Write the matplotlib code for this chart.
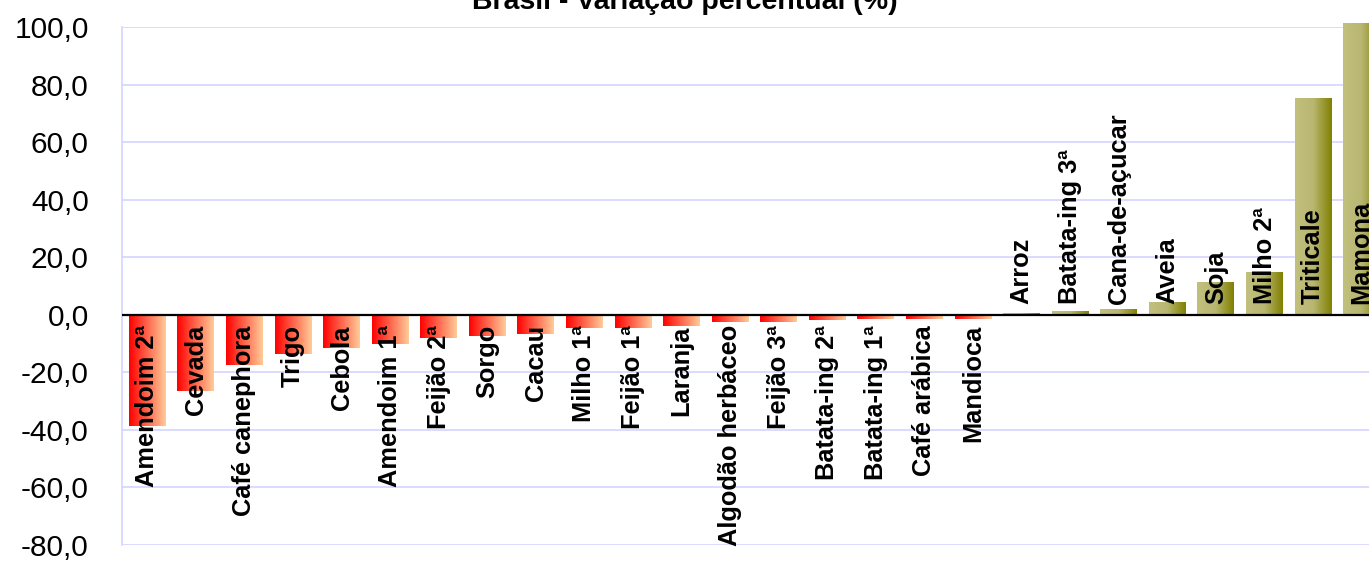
import numpy as np
import matplotlib
matplotlib.use("Agg")
from matplotlib import pyplot as plt
from matplotlib.colors import LinearSegmentedColormap

plt.rcParams['font.family'] = ['Liberation Sans', 'DejaVu Sans']

culturas = ["Amendoim 2ª", "Cevada", "Café canephora", "Trigo", "Cebola",
            "Amendoim 1ª", "Feijão 2ª", "Sorgo", "Cacau", "Milho 1ª",
            "Feijão 1ª", "Laranja", "Algodão herbáceo", "Feijão 3ª",
            "Batata-ing 2ª", "Batata-ing 1ª", "Café arábica", "Mandioca",
            "Arroz", "Batata-ing 3ª", "Cana-de-açucar", "Aveia", "Soja",
            "Milho 2ª", "Triticale", "Mamona"]
variacao = [-38.7, -26.6, -17.6, -13.5, -11.7, -10.2, -8.2, -7.5, -6.6, -4.6,
            -4.6, -3.8, -2.5, -2.5, -1.9, -1.3, -1.3, -1.3,
            0.5, 1.2, 1.8, 4.5, 11.4, 14.7, 75.3, 101.2]
yticks = [-80, -60, -40, -20, 0, 20, 40, 60, 80, 100]

# gradientes horizontais das barras
cmap_neg = LinearSegmentedColormap.from_list("neg", ["#FF0000", "#FFCC99"])
cmap_pos = LinearSegmentedColormap.from_list("pos", ["#C2C07E", "#B8B670", "#808000"])
grad = np.linspace(0, 1, 256).reshape(1, -1)

fig = plt.figure(figsize=(13.69, 5.62), dpi=100)
ax = fig.add_axes([0.0891, 0.0302, 0.9233, 0.9218])

x = np.arange(len(culturas))
bars = ax.bar(x, variacao, width=0.76, color="none", zorder=2, clip_on=False)
for b, v in zip(bars, variacao):
    x0, w, y0, h = b.get_x(), b.get_width(), b.get_y(), b.get_height()
    y_lo, y_hi = min(y0, y0 + h), max(y0, y0 + h)
    ax.imshow(grad, cmap=cmap_neg if v < 0 else cmap_pos, aspect="auto",
              extent=[x0, x0 + w, y_lo, y_hi], zorder=2, clip_on=False,
              interpolation="bilinear")

for xi, nome, v in zip(x, culturas, variacao):
    if v < 0:
        ax.annotate(nome, (xi, 0), xytext=(0, -7.5), textcoords="offset points",
                    rotation=90, ha="center", va="top", fontsize=18.3,
                    fontweight="bold", zorder=4)
    else:
        ax.annotate(nome, (xi, 0), xytext=(0, 7.5), textcoords="offset points",
                    rotation=90, ha="center", va="bottom", fontsize=18.3,
                    fontweight="bold", zorder=4)

ax.axhline(0, color="black", lw=1.6, zorder=3)
ax.set_xlim(-0.52, 25.5)
ax.set_ylim(-80, 100)
ax.set_yticks(yticks)
ax.set_yticklabels([f"{t:.1f}".replace(".", ",") for t in yticks], fontsize=21.5)
ax.tick_params(axis="y", length=0, pad=24)
ax.set_xticks([])
ax.yaxis.grid(True, color="#D4D4FF", lw=1.2, zorder=0)
ax.set_axisbelow(True)
for s in ["top", "right", "bottom"]:
    ax.spines[s].set_visible(False)
ax.spines["left"].set_color("#D4D4FF")
ax.spines["left"].set_linewidth(1.2)

fig.text(0.5, 0.984, "Brasil - Variação percentual (%)", ha="center",
         va="baseline", fontsize=20.5, fontweight="bold")

fig.savefig("out.png", dpi=100)
